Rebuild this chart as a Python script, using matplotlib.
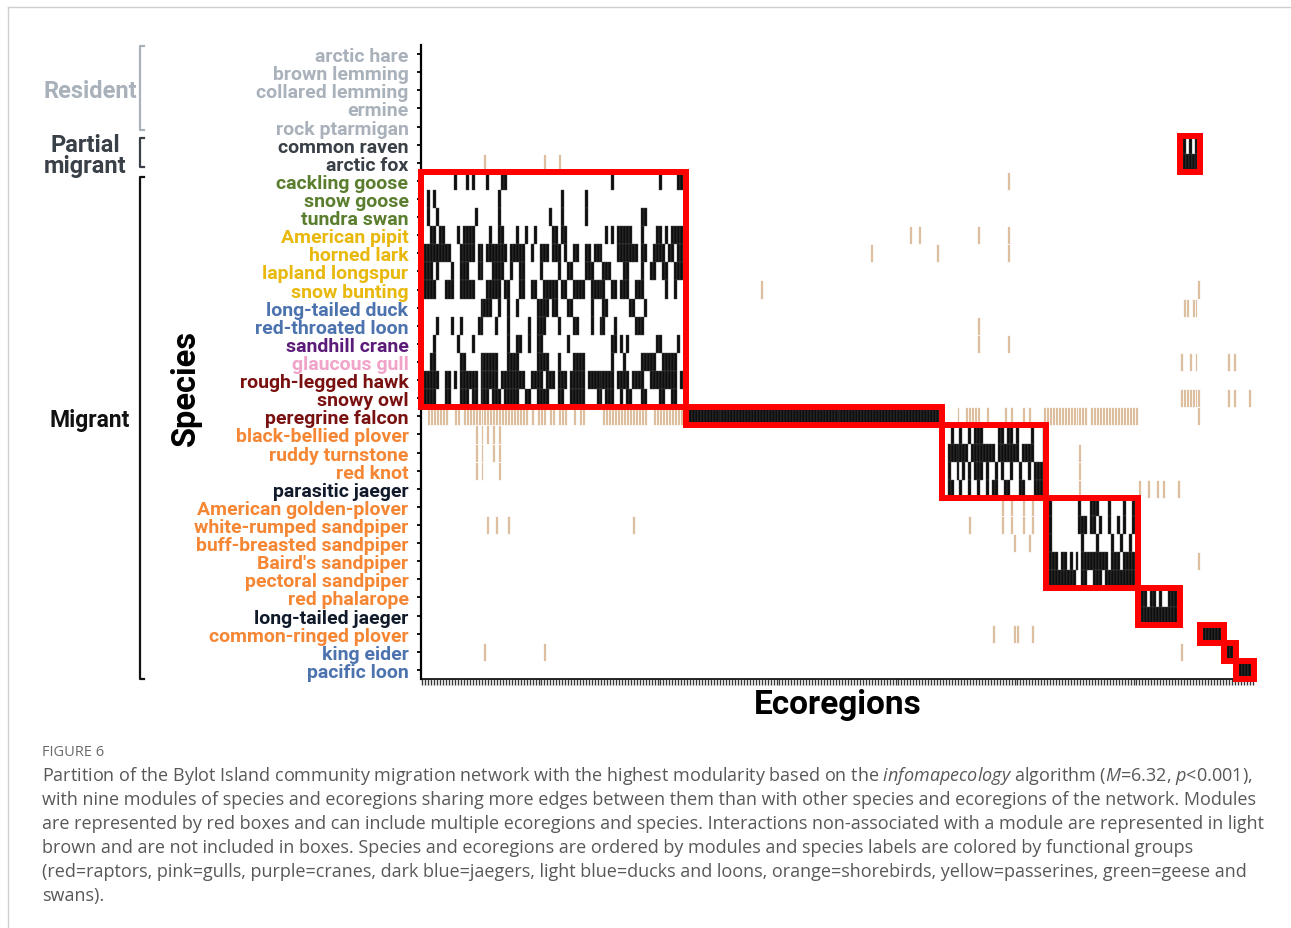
import matplotlib
matplotlib.use("Agg")
import matplotlib.pyplot as plt
from matplotlib.patches import Rectangle
from matplotlib.lines import Line2D
import numpy as np

plt.rcParams['font.family'] = ['Roboto', 'DejaVu Sans']
plt.rcParams['mathtext.fontset'] = 'custom'
plt.rcParams['mathtext.it'] = 'Open Sans:italic'
plt.rcParams['mathtext.rm'] = 'Open Sans'

W, H = 1291, 929
N_COLS = 280

species = ["arctic hare", "brown lemming", "collared lemming", "ermine", "rock ptarmigan",
           "common raven", "arctic fox", "cackling goose", "snow goose", "tundra swan",
           "American pipit", "horned lark", "lapland longspur", "snow bunting",
           "long-tailed duck", "red-throated loon", "sandhill crane", "glaucous gull",
           "rough-legged hawk", "snowy owl", "peregrine falcon", "black-bellied plover",
           "ruddy turnstone", "red knot", "parasitic jaeger", "American golden-plover",
           "white-rumped sandpiper", "buff-breasted sandpiper", "Baird's sandpiper",
           "pectoral sandpiper", "red phalarope", "long-tailed jaeger",
           "common-ringed plover", "king eider", "pacific loon"]

groups = ["resident"] * 5 + ["partial"] * 2 + ["geese", "geese", "geese",
          "passerine", "passerine", "passerine", "passerine", "duckloon", "duckloon",
          "crane", "gull", "raptor", "raptor", "raptor", "shorebird", "shorebird",
          "shorebird", "jaeger", "shorebird", "shorebird", "shorebird", "shorebird",
          "shorebird", "shorebird", "jaeger", "shorebird", "duckloon", "duckloon"]

group_colors = {"resident": "#A9B1BB", "partial": "#3A4047", "geese": "#5A7E2E",
                "passerine": "#E9B80C", "duckloon": "#4C73AE", "crane": "#5B1B78",
                "gull": "#F2A3C9", "raptor": "#7A1111", "shorebird": "#F58634",
                "jaeger": "#111A2B"}

# black cells (module interactions): per species row, columns or (start, end) inclusive
black = {
    "common raven": [256, 258, 260],
    "arctic fox": [(256, 260)],
    "cackling goose": [11, 15, 17, 22, (27, 28), 64, 80, (86, 87)],
    "snow goose": [2, 4, 26, 47, 55],
    "tundra swan": [2, 5, 18, 26, 43, 47, 55, 74, 75],
    "American pipit": [(3, 4), (6, 7), 12, (14, 17), 23, (26, 27), 32, 35, 38, (44, 45), 47, 48,
                       62, 64, (66, 70), 74, (79, 80), 82, (84, 87)],
    "horned lark": [(1, 5), (6, 9), (13, 17), (19, 20), (22, 28), (30, 32), (33, 34), 37, (40, 42),
                    (44, 46), 48, (51, 52), (55, 56), (58, 60), (66, 72), (74, 75), (78, 81),
                    (83, 84), (86, 88)],
    "lapland longspur": [(1, 3), 5, 10, (13, 15), (19, 20), (24, 27), 30, (33, 34), 40, 46, (49, 50),
                         (55, 57), (61, 63), (68, 69), 74, (77, 78), (81, 82), (85, 87)],
    "snow bunting": [(1, 4), (8, 10), (13, 17), (22, 26), (28, 29), (33, 34), (37, 38), (41, 45),
                     (47, 48), (51, 54), (57, 61), (64, 65), (67, 69), (72, 74), 82, 85],
    "long-tailed duck": [(20, 23), 26, 29, 32, (39, 42), (44, 45), (49, 50), 57, (61, 62), (70, 71), 75],
    "red-throated loon": [5, 10, 13, (19, 20), 25, 29, 36, (39, 41), 46, (51, 52), 57, (60, 61), 65,
                          (72, 74)],
    "sandhill crane": [4, 12, 17, 29, (32, 33), 36, (39, 40), 49, (64, 65), 67, 69, (79, 80), 86],
    "glaucous gull": [(3, 4), (13, 14), (20, 25), (29, 32), (39, 42), 46, (51, 54), 64, 68, (74, 78),
                      (81, 85)],
    "rough-legged hawk": [(1, 5), (8, 9), 11, (13, 18), (20, 25), (27, 34), (37, 40), (42, 44), (46, 48),
                          (50, 54), (56, 59), (60, 64), (66, 69), (71, 74), (77, 81), (82, 85), (87, 88)],
    "snowy owl": [(1, 4), (8, 9), (13, 15), (17, 18), (20, 22), (24, 26), (28, 29), (30, 32), (35, 36),
                  (39, 42), (46, 47), (50, 54), (59, 60), (62, 64), 67, (69, 70), (74, 75), (80, 81),
                  (84, 85)],
    "peregrine falcon": [(89, 174)],
    "black-bellied plover": [178, 181, 184, (186, 188), (194, 195), (197, 198), 200, 205, 209],
    "ruddy turnstone": [(177, 183), (185, 192), (194, 200), (202, 205), 209],
    "red knot": [177, 180, 182, 184, (186, 188), 190, 193, 195, 198, 201, 204, (206, 209)],
    "parasitic jaeger": [(177, 178), 181, 184, 187, 190, (192, 193), (196, 197), (201, 202), (206, 209)],
    "American golden-plover": [211, 221, (225, 227), 231, 236, 239],
    "white-rumped sandpiper": [211, (221, 222), 223, (225, 226), 228, 231, 234, 236, 239],
    "buff-breasted sandpiper": [211, 222, 227, 232, 235, 238],
    "Baird's sandpiper": [(211, 213), (215, 216), 218, 220, (222, 227), (228, 230), (232, 234),
                          (236, 237), (238, 240)],
    "pectoral sandpiper": [(211, 219), (222, 223), (226, 228), (230, 240)],
    "red phalarope": [(241, 243), (245, 246), 248, (251, 253)],
    "long-tailed jaeger": [(241, 253)],
    "common-ringed plover": [(263, 268)],
    "king eider": [(271, 272)],
    "pacific loon": [(275, 278)],
}

# light brown cells (interactions not associated with a module)
brown = {
    "arctic fox": [21, 41, 46],
    "cackling goose": [197],
    "American pipit": [164, 167, 187, 197],
    "horned lark": [151, 173, 197],
    "snow bunting": [114, 261],
    "long-tailed duck": [256, 257, 259, 260],
    "red-throated loon": [187],
    "sandhill crane": [187, 197],
    "glaucous gull": [255, 258, 260, 271, 273],
    "snowy owl": [(255, 261), 271, 273, 278],
    "peregrine falcon": [(2, 5), (6, 8), (11, 12), (14, 27), (28, 33), 34, 35, 37, 39, (40, 41),
                         (43, 44), 46, (47, 48), 51, 53, 54, (61, 75), (78, 87), 180, (183, 187), 190,
                         196, 198, 202, 204, (209, 223), (225, 240), 261],
    "black-bellied plover": [18, 20, 22, 24, 26],
    "ruddy turnstone": [18, 20, 24, 26, 221],
    "red knot": [18, 20, 26, 221],
    "parasitic jaeger": [221, 241, 244, 247, 249, 254],
    "American golden-plover": [195, 198, 202, 205],
    "white-rumped sandpiper": [22, 25, 29, 71, 184, 195, 198, 202, 205],
    "buff-breasted sandpiper": [199, 204],
    "Baird's sandpiper": [261],
    "common-ringed plover": [192, 199, 200, 205],
    "king eider": [21, 41, 255],
}

# modules: (first row, last row + 1, first column, last column + 1)
modules = [(7, 20, 0, 89), (20, 21, 89, 175), (21, 25, 175, 210), (25, 30, 210, 241),
           (30, 32, 241, 255), (5, 7, 255, 262), (32, 33, 262, 270), (33, 34, 270, 274),
           (34, 35, 274, 280)]

caption_lines = [
    "Partition of the Bylot Island community migration network with the highest modularity based on the "
    r"$\mathit{infomapecology}$ algorithm ($\mathit{M}$=6.32, $\mathit{p}$<0.001),",
    "with nine modules of species and ecoregions sharing more edges between them than with other species and ecoregions of the network. Modules",
    "are represented by red boxes and can include multiple ecoregions and species. Interactions non-associated with a module are represented in light",
    "brown and are not included in boxes. Species and ecoregions are ordered by modules and species labels are colored by functional groups",
    "(red=raptors, pink=gulls, purple=cranes, dark blue=jaegers, light blue=ducks and loons, orange=shorebirds, yellow=passerines, green=geese and",
    "swans).",
]


def expand(items):
    out = []
    for it in items:
        if isinstance(it, tuple):
            out.extend(range(it[0], it[1] + 1))
        else:
            out.append(it)
    return out


def fx(x):
    return x / W


def fy(y):
    return 1 - y / H


n_rows = len(species)
fig = plt.figure(figsize=(W / 100, H / 100), dpi=100)
ax = fig.add_axes([fx(421), fy(680), (1254 - 421) / W, (680 - 46) / H])

for name, cols in brown.items():
    c = expand(cols)
    ax.bar(c, 1, bottom=species.index(name), width=1, align="edge", color="#DDBE9E",
           edgecolor="white", linewidth=0.55, zorder=2)
for name, cols in black.items():
    c = expand(cols)
    ax.bar(c, 1, bottom=species.index(name), width=1, align="edge", color="#0E0E0E",
           edgecolor="#4A4A4A", linewidth=0.3, zorder=3)

for r0, r1, c0, c1 in modules:
    ax.add_patch(Rectangle((c0, r0), c1 - c0, r1 - r0, fill=False, edgecolor="#FF0000",
                           linewidth=4.3, clip_on=False, zorder=5, joinstyle="miter"))

ax.set_xlim(0, N_COLS)
ax.set_ylim(n_rows, 0)
ax.set_yticks(np.arange(n_rows) + 0.5)
ax.set_yticklabels(species, fontsize=14, fontweight="bold")
for lab, g in zip(ax.get_yticklabels(), groups):
    lab.set_color(group_colors[g])
ax.set_xticks(np.arange(N_COLS) + 0.5)
ax.set_xticklabels([])
ax.tick_params(axis="y", length=3, width=1.3, pad=6, color="black")
ax.tick_params(axis="x", length=4.5, width=1.0, color="#3A3A3A")
for s in ["top", "right"]:
    ax.spines[s].set_visible(False)
ax.spines["left"].set_linewidth(1.6)
ax.spines["bottom"].set_linewidth(1.2)

fig.text(fx(186), fy(388), "Species", rotation=90, ha="center", va="center", fontsize=23.5,
         fontweight="bold", color="black")
fig.text(fx(838), fy(705), "Ecoregions", ha="center", va="center", fontsize=24,
         fontweight="bold", color="black")


# group brackets and labels
def bracket(y0, y1, color):
    x = fx(140)
    fig.add_artist(Line2D([fx(144), x, x, fx(144)], [fy(y0), fy(y0), fy(y1), fy(y1)],
                          color=color, linewidth=1.6))


bracket(47, 131, "#A9B1BB")
bracket(139, 168, "#3A4047")
bracket(178, 680, "#111111")
fig.text(fx(90), fy(91), "Resident", ha="center", va="center", fontsize=17,
         fontweight="bold", color="#A9B1BB")
fig.text(fx(85), fy(156), "Partial\nmigrant", ha="center", va="center", fontsize=17,
         fontweight="bold", color="#3A4047", linespacing=0.9)
fig.text(fx(90), fy(421), "Migrant", ha="center", va="center", fontsize=16.5,
         fontweight="bold", color="#111111")

# frame lines
fig.add_artist(Line2D([fx(8), fx(8)], [fy(8), 0], color="#CFCFCF", linewidth=1))
fig.add_artist(Line2D([fx(8), 1], [fy(8), fy(8)], color="#CFCFCF", linewidth=1))

# caption
fig.text(fx(42), fy(752), "FIGURE 6", ha="left", va="center", fontsize=10.5,
         color="#6B6B6B", family="Open Sans")
for i, line in enumerate(caption_lines):
    fig.text(fx(42), fy(776 + 24 * i), line, ha="left", va="center", fontsize=12.95,
             color="#585858", family="Open Sans")

fig.savefig("out.png", dpi=100)
